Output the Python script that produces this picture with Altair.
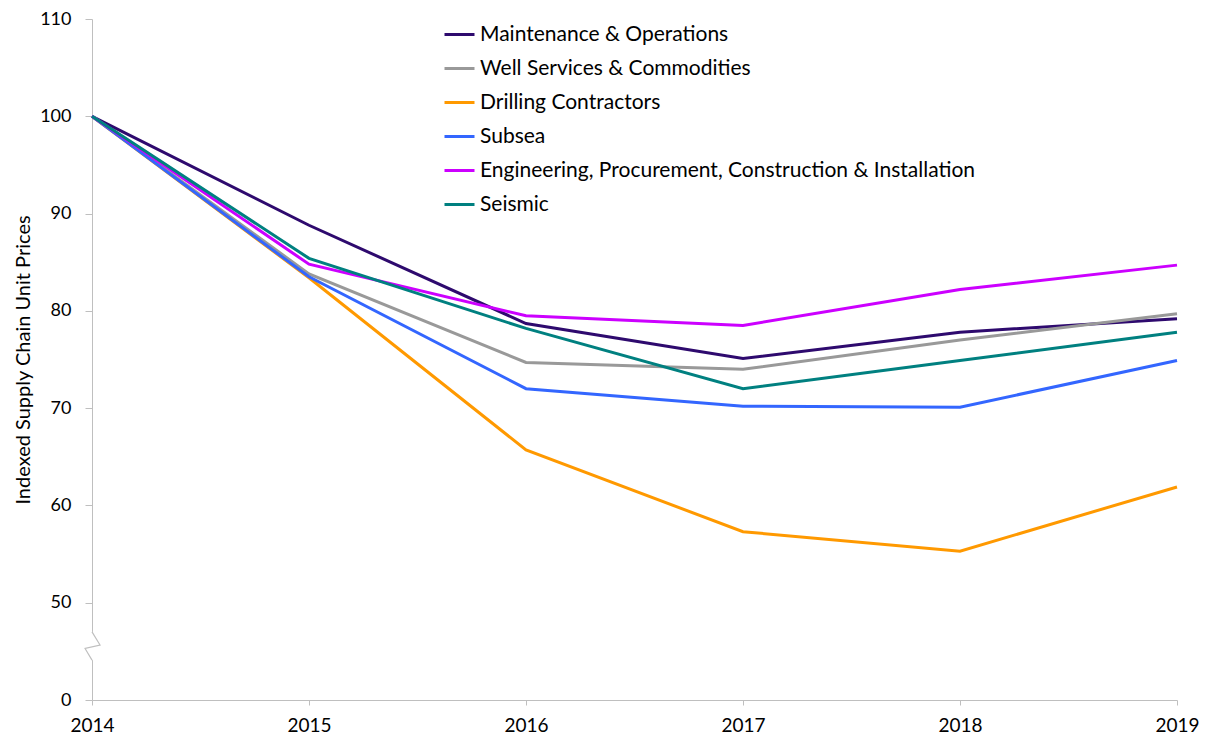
import altair as alt
import pandas as pd

years = [2014, 2015, 2016, 2017, 2018, 2019]
series_names = [
    "Maintenance & Operations",
    "Well Services & Commodities",
    "Drilling Contractors",
    "Subsea",
    "Engineering, Procurement, Construction & Installation",
    "Seismic",
]
maintenance = [100, 88.8, 78.7, 75.1, 77.8, 79.2]
well_services = [100, 83.8, 74.7, 74.0, 77.0, 79.7]
drilling = [100, 83.4, 65.7, 57.3, 55.3, 61.9]
subsea = [100, 83.5, 72.0, 70.2, 70.1, 74.9]
epci = [100, 84.8, 79.5, 78.5, 82.2, 84.7]
seismic = [100, 85.4, 78.2, 72.0, 74.9, 77.8]
colors = ["#2E0A6E", "#999999", "#FF9900", "#3366FF", "#CC00FF", "#008080"]

# axis break (value 0 shown at the bottom, scale resumes at 50)
break_x = [2014.0, 2014.037, 2013.968, 2014.0]
break_y = [47.0, 45.65, 45.3, 44.1]
y_ticks = [40, 50, 60, 70, 80, 90, 100, 110]

rows = []
for name, vals in zip(series_names, [maintenance, well_services, drilling, subsea, epci, seismic]):
    for yr, v in zip(years, vals):
        rows.append({"Year": yr, "Series": name, "Value": v})
df = pd.DataFrame(rows)

FONT = "Lato"

x_enc = alt.X(
    "Year:Q",
    scale=alt.Scale(domain=[2014, 2019], nice=False, zero=False),
    axis=alt.Axis(values=years, format="d", title=None, grid=False,
                  labelFontSize=19, labelFont=FONT, labelColor="#000000",
                  labelPadding=11, domainColor="#BFBFBF", tickColor="#BFBFBF",
                  tickSize=5, labelFlush=False),
)
y_enc = alt.Y(
    "Value:Q",
    scale=alt.Scale(domain=[40, 110], nice=False, zero=False),
    axis=alt.Axis(values=y_ticks, labelExpr="datum.value == 40 ? '0' : datum.label",
                  title="Indexed Supply Chain Unit Prices", titleFont=FONT,
                  titleFontSize=20, titleFontWeight="normal", titleColor="#000000",
                  titlePadding=6, grid=False, labelFontSize=18, labelFont=FONT,
                  labelColor="#000000", labelPadding=14, domainColor="#BFBFBF",
                  tickColor="#BFBFBF", tickSize=7),
)

lines = alt.Chart(df).mark_line(strokeWidth=3).encode(
    x=x_enc,
    y=y_enc,
    color=alt.Color(
        "Series:N",
        scale=alt.Scale(domain=series_names, range=colors),
        sort=series_names,
        legend=alt.Legend(
            title=None, orient="none", legendX=351, legendY=-1,
            symbolType="stroke", symbolSize=900, symbolStrokeWidth=3,
            labelFont=FONT, labelFontSize=21, labelColor="#000000",
            labelOffset=4, rowPadding=7, labelLimit=800,
        ),
    ),
    detail="Series:N",
)

brk_df = pd.DataFrame({"bx": break_x, "by": break_y, "o": list(range(len(break_x)))})
cover = alt.Chart(pd.DataFrame({"bx": [years[0]], "y1": [break_y[-1]], "y2": [break_y[0]]})).mark_rule(
    color="white", strokeWidth=4
).encode(x="bx:Q", y="y1:Q", y2="y2:Q")
zig = alt.Chart(brk_df).mark_line(color="#BFBFBF", strokeWidth=1.2).encode(
    x="bx:Q", y="by:Q", order="o:Q"
)

chart = alt.layer(lines, cover, zig).properties(
    width=1085, height=681,
    padding={"left": 84, "top": 11, "right": 24, "bottom": 34},
    autosize=alt.AutoSizeParams(type="none"),
).configure_view(stroke=None)

chart.save("out.html", embed_options={"renderer": "svg", "actions": False})
